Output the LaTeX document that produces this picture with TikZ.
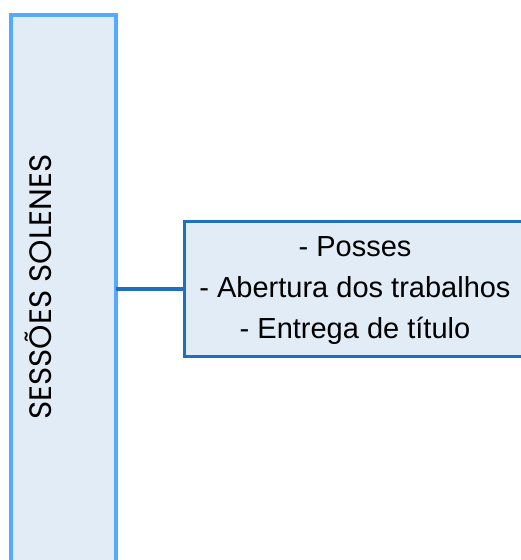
\documentclass[tikz,border=0pt]{standalone}
\usepackage{fontspec}
\setmainfont{Liberation Sans}
\newfontfamily\titlefont{Poppins}
\definecolor{boxfill}{HTML}{E2ECF7}
\definecolor{lightborder}{HTML}{55A9FF}
\definecolor{darkborder}{HTML}{1E6FC0}
\tikzset{
  sidebox/.style={draw=lightborder, fill=boxfill, line width=4pt},
  itembox/.style={draw=darkborder, fill=boxfill, line width=3.5pt},
  link/.style={draw=darkborder, line width=3.5pt}
}
\begin{document}
\begin{tikzpicture}[x=1pt,y=-1pt]
\useasboundingbox (0,0) rectangle (521,560);
\begin{scope}
\clip (0,0) rectangle (521,560);
\path[sidebox] (11,15) rectangle (115.5,570);
\path[itembox] (184.5,221.5) rectangle (530,356.5);
\end{scope}
\coordinate (left) at (115.5,289);
\coordinate (right) at (184.5,289);
\draw[link] (left) -- (right);
\node[rotate=90, font=\titlefont\fontsize{31}{36}\selectfont, anchor=center, inner sep=0pt] (title) at (38,287) {SESSÕES SOLENES};
\node[font=\fontsize{29}{41}\selectfont, align=center, anchor=center] (items) at (355,291) {- Posses\\- Abertura dos trabalhos\\- Entrega de título};
\end{tikzpicture}
\end{document}
